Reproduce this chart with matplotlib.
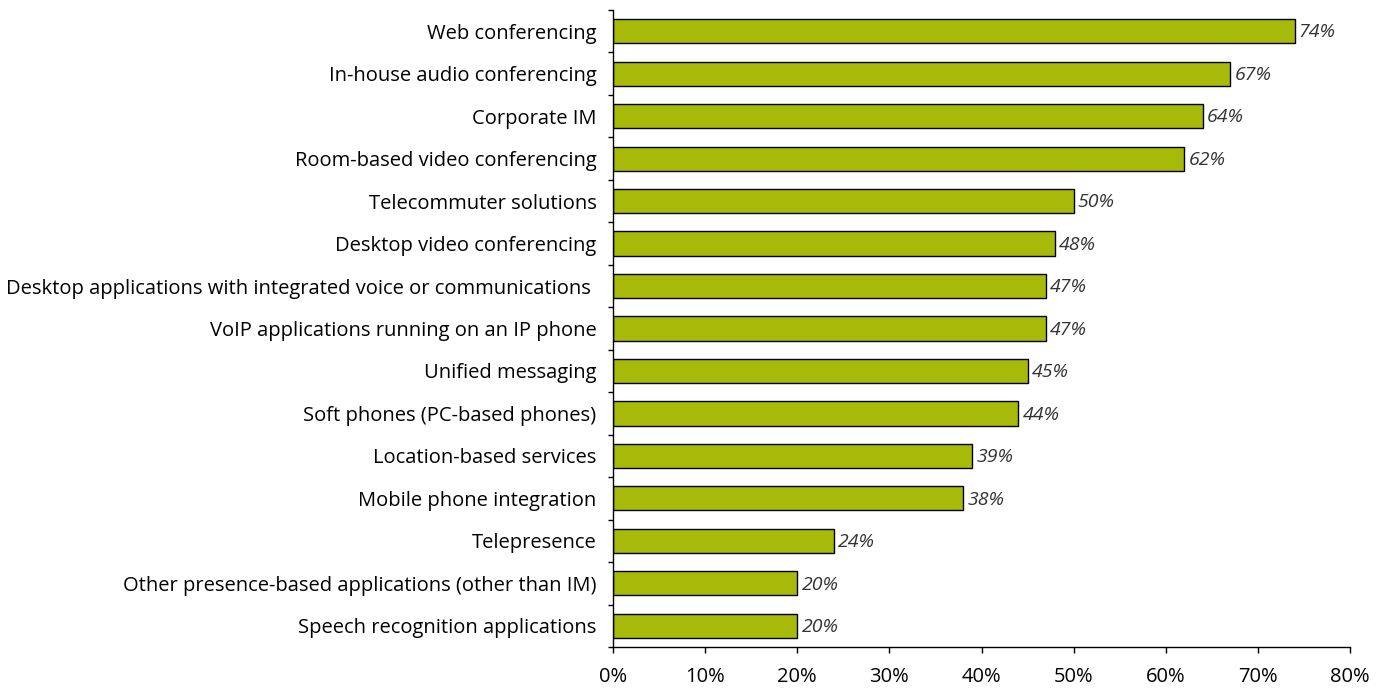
import matplotlib.pyplot as plt
import numpy as np

categories = [
    "Web conferencing",
    "In-house audio conferencing",
    "Corporate IM",
    "Room-based video conferencing",
    "Telecommuter solutions",
    "Desktop video conferencing",
    "Desktop applications with integrated voice or communications ",
    "VoIP applications running on an IP phone",
    "Unified messaging",
    "Soft phones (PC-based phones)",
    "Location-based services",
    "Mobile phone integration",
    "Telepresence",
    "Other presence-based applications (other than IM)",
    "Speech recognition applications",
]
values = [74, 67, 64, 62, 50, 48, 47, 47, 45, 44, 39, 38, 24, 20, 20]
xticks = [0, 10, 20, 30, 40, 50, 60, 70, 80]

plt.rcParams['font.family'] = ['Open Sans', 'DejaVu Sans']

fig = plt.figure(figsize=(13.87, 6.89), dpi=100)
ax = fig.add_axes([0.442, 0.061, 0.5313, 0.9245])

y = np.arange(len(categories))
ax.barh(y, values, height=0.57, color='#A7BA0A', edgecolor='black', linewidth=1)

# etiquetas de valor en cursiva
for yi, v in zip(y, values):
    ax.text(v + 0.45, yi + 0.03, f"{v}%", va='center', ha='left', fontsize=14,
            style='italic', color='#333333')

ax.set_xlim(0, 80)
ax.set_ylim(len(categories) - 0.5, -0.5)
ax.set_xticks(xticks)
ax.set_xticklabels([f"{t}%" for t in xticks], fontsize=14.5)
ax.set_yticks(y)
ax.set_yticklabels(categories, fontsize=14.5)
ax.set_yticks(np.arange(-0.5, len(categories)), minor=True)
ax.tick_params(axis='y', which='major', length=0, pad=12)
ax.tick_params(axis='y', which='minor', length=3.6, width=1)
ax.tick_params(axis='x', length=4.5, width=1, pad=10)

for s in ['top', 'right']:
    ax.spines[s].set_visible(False)
for s in ['left', 'bottom']:
    ax.spines[s].set_linewidth(1)

fig.savefig('out.png', dpi=100)
